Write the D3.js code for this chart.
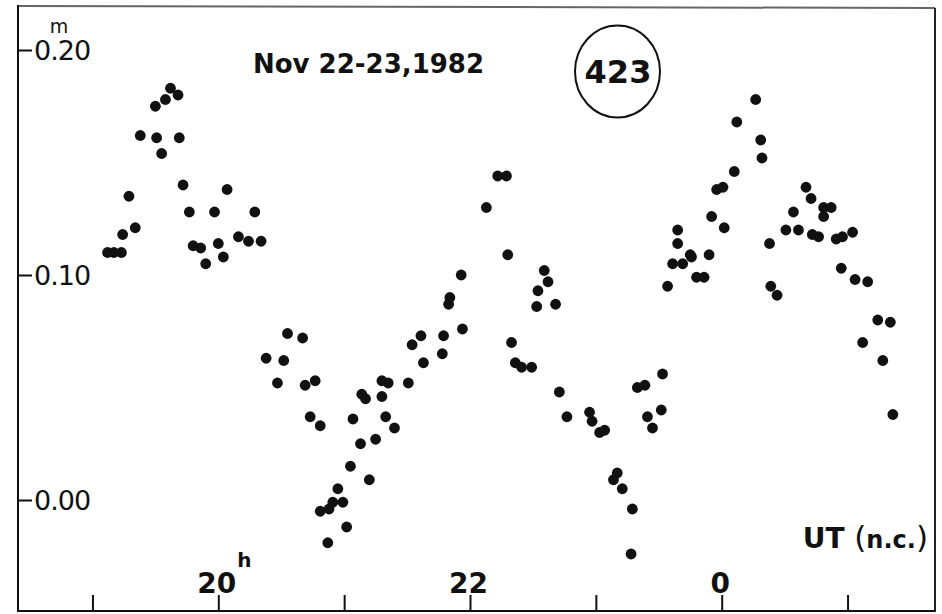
<!DOCTYPE html>
<html>
<head>
<meta charset="utf-8">
<script src="https://cdn.jsdelivr.net/npm/d3@7"></script>
<style>
  html, body { margin: 0; padding: 0; background: #fff; }
  svg { display: block; }
  text { font-family: "DejaVu Sans", sans-serif; fill: #111; }
</style>
</head>
<body>
<svg id="chart" width="942" height="614"></svg>
<script>
// ---- data (UT hours, hours past midnight continue as 24, 25 ...) ----
const timeUT = [
  19.12, 19.17, 19.23, 19.24, 19.29, 19.34, 19.38, 19.50, 19.51, 19.55,
  19.58, 19.62, 19.68, 19.69, 19.72, 19.77, 19.80, 19.86, 19.90, 19.97,
  20.00, 20.04, 20.07, 20.16, 20.24, 20.29, 20.34,
  20.38, 20.47, 20.52, 20.55, 20.67, 20.69, 20.73, 20.77, 20.81, 20.81,
  20.87, 20.88, 20.91, 20.95, 20.99, 21.02, 21.05, 21.07, 21.13, 21.14,
  21.17, 21.20, 21.25, 21.30, 21.30, 21.33, 21.35, 21.40, 21.51, 21.54,
  21.61, 21.63, 21.78, 21.79, 21.83, 21.84, 21.93, 21.94, 22.13, 22.22,
  22.29, 22.30, 22.33, 22.36, 22.41, 22.49, 22.53, 22.54, 22.59, 22.62,
  22.68, 22.71, 22.77, 22.95, 22.97, 23.03, 23.07, 23.14, 23.17, 23.21,
  23.28, 23.29, 23.33, 23.39, 23.41, 23.45, 23.52, 23.53, 23.57, 23.61,
  23.65, 23.65, 23.69, 23.75, 23.76, 23.80, 23.86, 23.90, 23.92, 23.96,
  24.01, 24.02, 24.10, 24.12, 24.27, 24.31, 24.32, 24.38, 24.39, 24.44,
  24.51, 24.57, 24.61, 24.67, 24.71, 24.72, 24.77, 24.81, 24.81, 24.87,
  24.91, 24.95, 24.96, 25.04, 25.06, 25.12, 25.16, 25.24, 25.28, 25.34,
  25.36
];
const deltaMag = [
  0.110, 0.110, 0.110, 0.118, 0.135, 0.121, 0.162, 0.175, 0.161, 0.154,
  0.178, 0.183, 0.180, 0.161, 0.140, 0.128, 0.113, 0.112, 0.105, 0.128,
  0.114, 0.108, 0.138, 0.117, 0.115, 0.128, 0.115,
  0.063, 0.052, 0.062, 0.074, 0.072, 0.051, 0.037, 0.053, 0.033, -0.005,
  -0.019, -0.004, -0.001, 0.005, -0.001, -0.012, 0.015, 0.036, 0.025, 0.047,
  0.045, 0.009, 0.027, 0.053, 0.046, 0.037, 0.052, 0.032, 0.052, 0.069,
  0.073, 0.061, 0.065, 0.073, 0.087, 0.090, 0.100, 0.076, 0.130, 0.144,
  0.144, 0.109, 0.070, 0.061, 0.059, 0.059, 0.086, 0.093, 0.102, 0.097,
  0.087, 0.048, 0.037, 0.039, 0.035, 0.030, 0.031, 0.009, 0.012, 0.005,
  -0.024, -0.004, 0.050, 0.051, 0.037, 0.032, 0.040, 0.056, 0.095, 0.105,
  0.120, 0.114, 0.105, 0.109, 0.108, 0.099, 0.099, 0.109, 0.126, 0.138,
  0.139, 0.121, 0.146, 0.168, 0.178, 0.160, 0.152, 0.114, 0.095, 0.091,
  0.120, 0.128, 0.120, 0.139, 0.134, 0.118, 0.117, 0.130, 0.126, 0.130,
  0.116, 0.103, 0.117, 0.119, 0.098, 0.070, 0.097, 0.080, 0.062, 0.079,
  0.038
];
const yTicks = [0.00, 0.10, 0.20];
const xTicks = [19, 20, 21, 22, 23, 24, 25];
const xTickLabels = ["", "20", "", "22", "", "0", ""];
const titleText = "Nov 22-23,1982";
const plateLabel = "423";

// ---- layout ----
const svg = d3.select("#chart");
const frame = { left: 18, right: 935, top: 6, bottom: 611 };

const x = d3.scaleLinear().domain([20, 24]).range([218.3, 721.7]);
const y = d3.scaleLinear().domain([0, 0.2]).range([500, 50]);

// frame
svg.append("line").attr("x1", frame.left).attr("y1", frame.top)
  .attr("x2", frame.right).attr("y2", frame.top + 2)
  .attr("stroke", "#666").attr("stroke-width", 2);
svg.append("line").attr("x1", frame.left).attr("y1", frame.top - 1)
  .attr("x2", frame.left).attr("y2", frame.bottom + 1)
  .attr("stroke", "#111").attr("stroke-width", 2);
svg.append("line").attr("x1", frame.right).attr("y1", frame.top + 2)
  .attr("x2", frame.right).attr("y2", frame.bottom + 1)
  .attr("stroke", "#222").attr("stroke-width", 2);
svg.append("line").attr("x1", frame.left).attr("y1", frame.bottom)
  .attr("x2", frame.right).attr("y2", frame.bottom)
  .attr("stroke", "#111").attr("stroke-width", 2);

// left axis (ticks point inward)
const yAxis = d3.axisRight(y).tickValues(yTicks).tickSize(14).tickPadding(2)
  .tickFormat(d3.format(".2f"));
const gy = svg.append("g").attr("transform", `translate(${frame.left},0)`).call(yAxis);
gy.select(".domain").remove();
gy.selectAll(".tick line").attr("stroke", "#111").attr("stroke-width", 2);
gy.selectAll(".tick text").attr("font-size", 27).attr("fill", "#111")
  .attr("letter-spacing", -1)
  .style("font-family", "DejaVu Sans, sans-serif").attr("dy", "0.36em");

// "m" unit above 0.20
svg.append("text").attr("x", 59).attr("y", 33).attr("text-anchor", "middle")
  .attr("font-size", 19).text("m");

// bottom axis (ticks point inward)
const xAxis = d3.axisTop(x).tickValues(xTicks).tickSize(16).tickPadding(2)
  .tickFormat((d, i) => xTickLabels[i]);
const gx = svg.append("g").attr("transform", `translate(0,${frame.bottom})`).call(xAxis);
gx.select(".domain").remove();
gx.selectAll(".tick line").attr("stroke", "#111").attr("stroke-width", 2);
gx.selectAll(".tick text").attr("font-size", 28).attr("font-weight", "bold")
  .attr("dx", -2)
  .attr("fill", "#111").style("font-family", "DejaVu Sans, sans-serif");

// superscript h on 20
svg.append("text").attr("x", x(20) + 19).attr("y", 567).attr("text-anchor", "start")
  .attr("font-size", 20).attr("font-weight", "bold").text("h");

// axis name
const ut = svg.append("text").attr("x", 928).attr("y", 548).attr("text-anchor", "end");
ut.append("tspan").attr("font-size", 28).attr("font-weight", "bold").text("UT ");
ut.append("tspan").attr("font-size", 31).text("(");
ut.append("tspan").attr("font-size", 24).attr("font-weight", "bold").text("n.c.");
ut.append("tspan").attr("font-size", 31).text(")");

// title
svg.append("text").attr("x", 253).attr("y", 73).attr("font-size", 26)
  .attr("font-weight", "bold").text(titleText);

// plate number in ellipse
svg.append("ellipse").attr("cx", 617.5).attr("cy", 71.5).attr("rx", 42.5).attr("ry", 46)
  .attr("fill", "none").attr("stroke", "#111").attr("stroke-width", 2);
svg.append("text").attr("x", 618).attr("y", 83).attr("text-anchor", "middle")
  .attr("font-size", 32).attr("font-weight", "bold").text(plateLabel);

// points
const pts = timeUT.map((t, i) => ({ t, m: deltaMag[i] }));
svg.append("g").selectAll("circle").data(pts).join("circle")
  .attr("cx", d => x(d.t)).attr("cy", d => y(d.m)).attr("r", 5.4)
  .attr("fill", "#111");
</script>
</body>
</html>
